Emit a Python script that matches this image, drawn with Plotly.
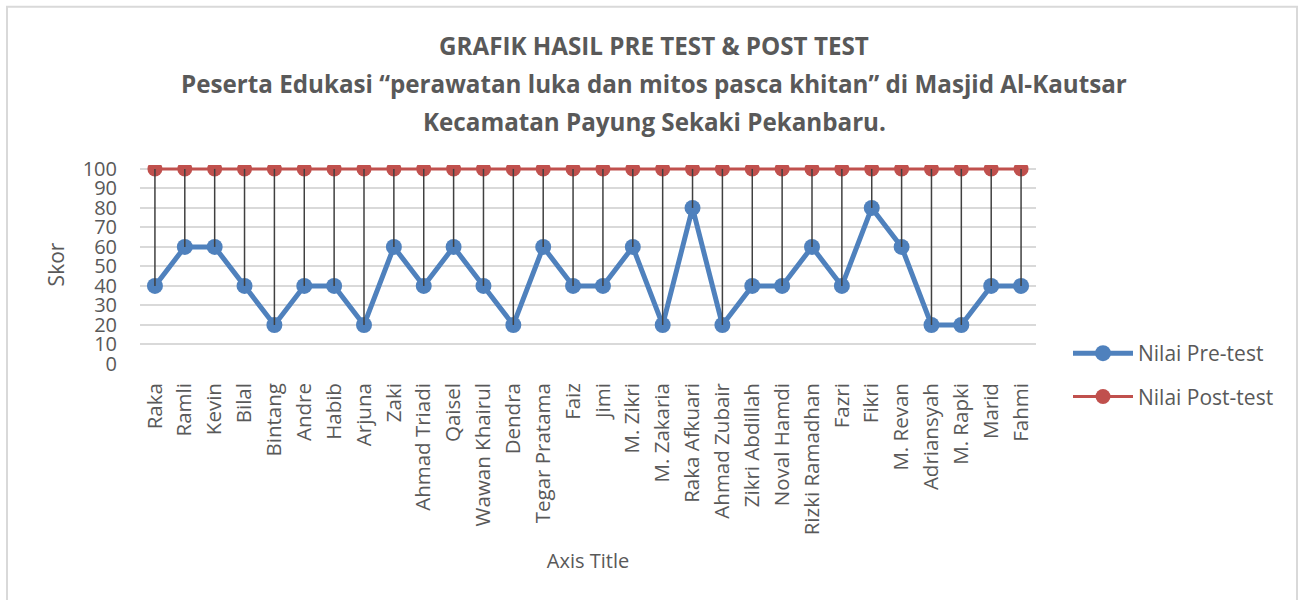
import plotly.graph_objects as go

names = ["Raka", "Ramli", "Kevin", "Bilal", "Bintang", "Andre", "Habib", "Arjuna", "Zaki",
         "Ahmad Triadi", "Qaisel", "Wawan Khairul", "Dendra", "Tegar Pratama", "Faiz", "Jimi",
         "M. Zikri", "M. Zakaria", "Raka Afkuari", "Ahmad Zubair", "Zikri Abdillah", "Noval Hamdi",
         "Rizki Ramadhan", "Fazri", "Fikri", "M. Revan", "Adriansyah", "M. Rapki", "Marid", "Fahmi"]
pre_test = [40, 60, 60, 40, 20, 40, 40, 20, 60, 40, 60, 40, 20, 60, 40, 40,
            60, 20, 80, 20, 40, 40, 60, 40, 80, 60, 20, 20, 40, 40]
post_test = [100] * 30
y_ticks = [0, 10, 20, 30, 40, 50, 60, 70, 80, 90, 100]

FONT = "Open Sans"
GRAY = "#595959"

# drop lines between the two series
drop_x, drop_y = [], []
for n, a, b in zip(names, pre_test, post_test):
    drop_x += [n, n, None]
    drop_y += [b, a, None]

fig = go.Figure()
fig.add_trace(go.Scatter(x=names, y=pre_test, mode="lines+markers", name="Nilai Pre-test",
                         legendgroup="pre",
                         line=dict(color="#4F81BD", width=5),
                         marker=dict(color="#4F81BD", size=16)))
fig.add_trace(go.Scatter(x=names, y=post_test, mode="lines+markers", name="Nilai Post-test",
                         legendgroup="post",
                         line=dict(color="#C0504D", width=3),
                         marker=dict(color="#C0504D", size=15)))
fig.add_trace(go.Scatter(x=drop_x, y=drop_y, mode="lines", showlegend=False,
                         line=dict(color="#404040", width=1.5), hoverinfo="skip"))

Y_TOP = 102  # a little headroom so the 100 line is not clipped
L, R, B = 140, 1036, 364
T = B - 195 * Y_TOP / 100
W, H = R - L, B - T

def px_x(p):
    return (p - L) / W

def px_y(p):
    return (B - p) / H

title_lines = ["GRAFIK HASIL PRE TEST &amp; POST TEST",
               "Peserta Edukasi “perawatan luka dan mitos pasca khitan” di Masjid Al-Kautsar",
               "Kecamatan Payung Sekaki Pekanbaru."]
title_y = [46, 84, 122]
annotations = []
for t, yy in zip(title_lines, title_y):
    annotations.append(dict(text="<b>" + t + "</b>", x=px_x(654), y=px_y(yy), xref="paper", yref="paper",
                            xanchor="center", yanchor="middle", showarrow=False,
                            font=dict(family=FONT, size=24.2, color=GRAY)))

fig.update_layout(
    width=1301, height=600,
    margin=dict(l=L, r=1301 - R, t=T, b=600 - B),
    paper_bgcolor="white", plot_bgcolor="white",
    font=dict(family=FONT, color=GRAY),
    annotations=annotations,
    showlegend=True,
    legend=dict(x=px_x(1068), y=px_y(333), xanchor="left", yanchor="top",
                font=dict(family=FONT, size=21, color=GRAY), tracegroupgap=13,
                itemwidth=60, bgcolor="rgba(0,0,0,0)"),
    shapes=[dict(type="rect", xref="paper", yref="paper",
                 x0=px_x(7), x1=px_x(1297), y0=px_y(7), y1=px_y(610),
                 line=dict(color="#D9D9D9", width=2), layer="below")],
    xaxis=dict(type="category", tickangle=-90, tickfont=dict(family=FONT, size=20.5, color=GRAY),
               showgrid=False, showline=False, ticks="", zeroline=False,
               range=[-0.5, len(names) - 0.5], ticklabelstandoff=14,
               title=dict(text="Axis Title", font=dict(family=FONT, size=20, color=GRAY), standoff=19)),
    yaxis=dict(range=[0, Y_TOP], tickvals=y_ticks, tickfont=dict(family=FONT, size=20, color=GRAY),
               showgrid=True, gridcolor="#D9D9D9", gridwidth=1.5, zeroline=False, showline=False,
               ticks="", ticklabelstandoff=22,
               title=dict(text="Skor", font=dict(family=FONT, size=21, color=GRAY), standoff=12)),
)

fig.write_html("out.html", config={"displayModeBar": False},
               post_script="document.body.style.margin='0';document.body.style.overflow='hidden';")
